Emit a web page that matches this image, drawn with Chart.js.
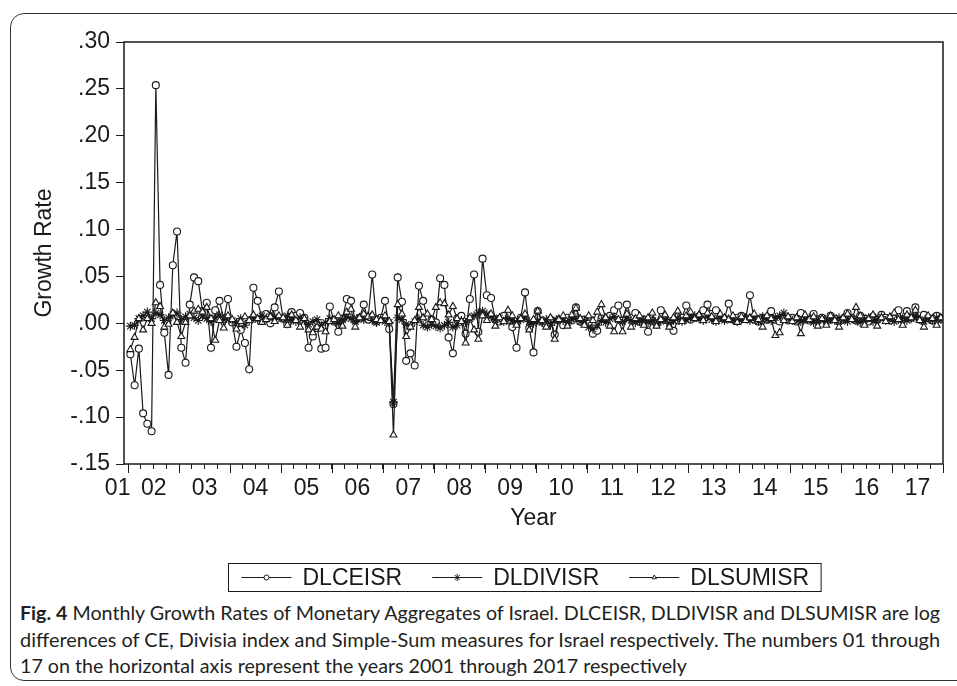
<!DOCTYPE html>
<html lang="en">
<head>
<meta charset="UTF-8">
<title>Monthly Growth Rates of Monetary Aggregates of Israel</title>
<script src="https://cdn.jsdelivr.net/npm/chart.js"></script>
<style>
  body { margin: 0; background: #fff; width: 957px; height: 686px; overflow: hidden; position: relative; }
  #frame { position: absolute; left: 10px; top: 13px; width: 1000px; height: 668px; border: 1.5px solid #333; border-radius: 14px; box-sizing: border-box; }
  #chart { position: absolute; left: 0; top: 0; }
  #caption { position: absolute; left: 20px; top: 600px; font-family: Lato, sans-serif; font-size: 19px; line-height: 26.5px; color: #231f20; }
  #caption .ln { white-space: nowrap; transform-origin: left center; width: max-content; }
</style>
</head>
<body>
<div id="frame"></div>
<canvas id="chart" width="957" height="600"></canvas>
<div id="caption">
  <div class="ln"><b>Fig. 4</b> Monthly Growth Rates of Monetary Aggregates of Israel. DLCEISR, DLDIVISR and DLSUMISR are log</div>
  <div class="ln">differences of CE, Divisia index and Simple-Sum measures for Israel respectively. The numbers 01 through</div>
  <div class="ln">17 on the horizontal axis represent the years 2001 through 2017 respectively</div>
</div>
<script>
// monthly observations 2002M01 .. 2017M12 (x = month index)
const months = [];
for (let y = 2002; y <= 2017; y++) {
  for (let m = 1; m <= 12; m++) months.push(y + 'M' + String(m).padStart(2, '0'));
}
const yearLabels = ['01','02','03','04','05','06','07','08','09','10','11','12','13','14','15','16','17'];
const yTicks = [-0.15, -0.10, -0.05, 0.00, 0.05, 0.10, 0.15, 0.20, 0.25, 0.30];

const dlceisr = [
  -0.033,-0.066,-0.027,-0.096,-0.107,-0.115, 0.254, 0.041,-0.010,-0.055, 0.062, 0.098,
  -0.026,-0.042, 0.020, 0.049, 0.045, 0.013, 0.022,-0.026, 0.014, 0.024, 0.004, 0.026,
   0.001,-0.025,-0.007,-0.021,-0.049, 0.038, 0.024, 0.005, 0.010, 0.000, 0.017, 0.034,
   0.005,-0.001, 0.012, 0.008, 0.011, 0.006,-0.026,-0.014,-0.005,-0.027,-0.026, 0.018,
   0.002,-0.009, 0.005, 0.026, 0.024, 0.003, 0.006, 0.020, 0.004, 0.052, 0.002, 0.006,
   0.024,-0.006,-0.086, 0.049, 0.023,-0.040,-0.032,-0.045, 0.040, 0.024, 0.006, 0.004,
   0.001, 0.048, 0.041,-0.015,-0.032, 0.005, 0.008,-0.011, 0.026, 0.052,-0.009, 0.069,
   0.030, 0.027, 0.004, 0.002, 0.008, 0.003,-0.004,-0.026, 0.006, 0.033,-0.005,-0.031,
   0.013, 0.002,-0.002, 0.004,-0.012, 0.004,-0.002, 0.006, 0.003, 0.017, 0.002, 0.004,
   0.000,-0.011,-0.008, 0.005, 0.004, 0.008, 0.014, 0.019, 0.003, 0.020, 0.006, 0.011,
   0.002, 0.004,-0.009, 0.003, 0.000, 0.014, 0.004, 0.002,-0.008, 0.003, 0.006, 0.019,
   0.004, 0.006, 0.007, 0.014, 0.020, 0.010, 0.014, 0.006, 0.005, 0.021, 0.004, 0.006,
   0.008, 0.005, 0.030, 0.004, 0.002, 0.006, 0.004, 0.013, 0.004, 0.002, 0.005, 0.003,
   0.006, 0.002, 0.011, 0.005, 0.003, 0.010, 0.004, 0.006, 0.003, 0.008, 0.005, 0.002,
   0.004, 0.011, 0.006, 0.003, 0.008, 0.005, 0.002, 0.007, 0.004, 0.009, 0.006, 0.003,
   0.005, 0.014, 0.004, 0.013, 0.006, 0.017, 0.004, 0.009, 0.006, 0.003, 0.008, 0.005
];
const dldivisr = [
  -0.003,-0.002, 0.005, 0.008, 0.012, 0.005, 0.011, 0.009, 0.003, 0.006, 0.009, 0.011,
   0.004, 0.007, 0.010, 0.006, 0.003, 0.008, 0.005, 0.002, 0.006, 0.009, 0.004, 0.007,
   0.003, 0.001, 0.005,-0.002, 0.003, 0.006, 0.004, 0.008, 0.005, 0.010, 0.007, 0.006,
   0.005, 0.008, 0.004, 0.002, 0.006, 0.003,-0.001, 0.002, 0.004,-0.002, 0.001, 0.005,
   0.003, 0.000, 0.004, 0.007, 0.005, 0.002, 0.006, 0.004, 0.008, 0.003, 0.001, 0.005,
   0.002, 0.001,-0.084, 0.006, 0.004,-0.001,-0.003, 0.002, 0.005,-0.002,-0.004,-0.001,
  -0.003,-0.005,-0.002, 0.001,-0.004,-0.002, 0.003, 0.001, 0.005, 0.008, 0.011, 0.013,
   0.010, 0.007, 0.004, 0.006, 0.002, 0.005, 0.003, 0.001, 0.004, 0.006, 0.002, 0.000,
   0.003, 0.001, 0.004,-0.002, 0.002, 0.005, 0.003, 0.001, 0.004, 0.006, 0.002, 0.003,
  -0.004,-0.006,-0.002, 0.003, 0.001, 0.005, 0.007, 0.004, 0.002, 0.006, 0.003, 0.001,
   0.002, 0.004, 0.001, 0.003,-0.001, 0.002, 0.004, 0.000, 0.003, 0.005, 0.002, 0.004,
   0.006, 0.008, 0.005, 0.003, 0.007, 0.004, 0.002, 0.006, 0.003, 0.005, 0.004, 0.002,
   0.004, 0.006, 0.003, 0.005, 0.002, 0.007, 0.004, 0.003, 0.006, 0.008, 0.011, 0.005,
   0.003, 0.005, 0.002, 0.004, 0.006, 0.001, 0.003, 0.005, 0.002, 0.004, 0.003, 0.006,
   0.004, 0.002, 0.005, 0.003, 0.001, 0.004, 0.006, 0.002, 0.004, 0.007, 0.003, 0.005,
   0.002, 0.004, 0.006, 0.003, 0.005, 0.008, 0.004, 0.002, 0.005, 0.003, 0.006, 0.004
];
const dlsumisr = [
  -0.028,-0.015, 0.005,-0.007, 0.005, 0.000, 0.022, 0.018,-0.004,-0.001, 0.011, 0.001,
  -0.014, 0.001, 0.008, 0.013, 0.015, 0.012, 0.017, 0.005,-0.018, 0.003,-0.005, 0.008,
   0.004,-0.006, 0.002, 0.007, 0.003, 0.009, 0.005, 0.001, 0.004, 0.007, 0.002, 0.008,
   0.006,-0.002, 0.009, 0.003,-0.004, 0.005,-0.007,-0.010,-0.004,-0.006,-0.009, 0.002,
   0.004, 0.008,-0.003, 0.012, 0.015,-0.004, 0.006, 0.010, 0.007, 0.009, 0.004, 0.003,
   0.008, 0.002,-0.119, 0.020, 0.010,-0.014,-0.004, 0.003, 0.017, 0.006, 0.010, 0.004,
   0.017, 0.022, 0.021, 0.009, 0.018, 0.005, 0.002,-0.021, 0.006,-0.007,-0.017, 0.008,
   0.003, 0.010,-0.003, 0.006, 0.002, 0.014, 0.008,-0.002, 0.005, 0.010,-0.007, 0.004,
   0.013, 0.003,-0.004, 0.006,-0.017, 0.004, 0.008,-0.003, 0.009, 0.016, 0.005,-0.002,
   0.008, 0.003, 0.012, 0.020, 0.006,-0.003,-0.009, 0.004,-0.009, 0.010,-0.004, 0.005,
   0.008,-0.002, 0.006, 0.011,-0.003, 0.004, 0.009,-0.004, 0.006, 0.013, 0.002, 0.008,
   0.012, 0.005, 0.009, 0.003, 0.011, 0.007, 0.002, 0.010, 0.006, 0.004, 0.008, 0.001,
   0.007, 0.003, 0.006, 0.010, 0.004,-0.004, 0.008, 0.005,-0.013,-0.010, 0.003, 0.007,
   0.002, 0.006,-0.011, 0.009, 0.004, 0.007,-0.003, 0.005,-0.002, 0.008, 0.003,-0.004,
   0.006, 0.010, 0.004, 0.017, 0.008,-0.002, 0.005, 0.009,-0.003, 0.006, 0.002, 0.007,
   0.011, 0.004,-0.002, 0.009, 0.006, 0.014, 0.003,-0.004, 0.008, 0.005,-0.002, 0.006
];

const ink = '#1a1a1a';
const fontFam = 'Arial, "Liberation Sans", sans-serif';
const toPoints = arr => arr.map((v, i) => ({ x: i, y: v }));

// x-axis: the axis spans 2001M12 .. 2017M12, ticks at quarter boundaries
const xMin = -1.5, xMax = months.length - 0.5;
const firstLabelAt = -3;          // the squeezed "01" label left of the first tick
const yearStarts = [];
for (let k = 0; k <= yearLabels.length - 1; k++) yearStarts.push(12 * k - 0.5);

function xTickLabel(v) {
  if (v === firstLabelAt) return yearLabels[0];
  const k = (v - 5.5) / 12;
  if (Number.isInteger(k) && k >= 0) return yearLabels[k + 1];
  return '';
}

const boxAndLegend = {
  id: 'boxAndLegend',
  afterDraw(chart) {
    const { ctx, chartArea: a } = chart;
    const x = chart.scales.x;
    ctx.save();
    ctx.strokeStyle = ink;
    ctx.lineWidth = 1.5;
    ctx.strokeRect(a.left, a.top, a.right - a.left, a.bottom - a.top);
    // long ticks at year boundaries
    ctx.lineWidth = 1;
    yearStarts.forEach(v => {
      const px = Math.round(x.getPixelForValue(v)) + 0.5;
      ctx.beginPath();
      ctx.moveTo(px, a.bottom);
      ctx.lineTo(px, a.bottom + 9);
      ctx.stroke();
    });

    // legend
    const left = 228.5, top = 563.5, h = 28, cy = top + h / 2;
    const sample = 50;
    let cx = left + 13;
    ctx.font = '23px ' + fontFam;
    ctx.textBaseline = 'middle';
    chart.data.datasets.forEach((ds, i) => {
      if (i > 0) cx += 30;
      ctx.strokeStyle = ink;
      ctx.lineWidth = 1;
      ctx.beginPath();
      ctx.moveTo(cx, cy);
      ctx.lineTo(cx + sample, cy);
      ctx.stroke();
      ctx.fillStyle = '#fff';
      Chart.helpers.drawPoint(ctx, { pointStyle: ds.pointStyle, radius: ds.pointStyle === 'star' ? 3.5 : 2.5, rotation: 0, borderWidth: 1 }, cx + sample / 2, cy);
      ctx.fillStyle = ink;
      ctx.fillText(ds.label, cx + sample + 11, cy + 1);
      cx += sample + 11 + ctx.measureText(ds.label).width;
    });
    ctx.strokeStyle = ink;
    ctx.lineWidth = 1;
    ctx.strokeRect(left, top, cx + 12 - left, h);
    ctx.restore();
  }
};

new Chart(document.getElementById('chart'), {
  type: 'line',
  data: {
    datasets: [
      { label: 'DLCEISR', data: toPoints(dlceisr), pointStyle: 'circle', pointRadius: 3.5, order: 2 },
      { label: 'DLDIVISR', data: toPoints(dldivisr), pointStyle: 'star', pointRadius: 4.5, order: 1 },
      { label: 'DLSUMISR', data: toPoints(dlsumisr), pointStyle: 'triangle', pointRadius: 4, order: 0 }
    ].map(d => Object.assign(d, {
      borderColor: ink, borderWidth: 1.2, tension: 0,
      pointBackgroundColor: '#fff', pointBorderColor: ink, pointBorderWidth: 1.1
    }))
  },
  options: {
    responsive: false,
    animation: false,
    devicePixelRatio: 1,
    layout: { padding: { left: 0, top: 42, right: 14, bottom: 66 } },
    plugins: { legend: { display: false }, tooltip: { enabled: false } },
    scales: {
      x: {
        type: 'linear',
        min: xMin,
        max: xMax,
        afterFit: s => { s.height = 70; },
        afterBuildTicks: s => {
          const t = [{ value: firstLabelAt }];
          for (let v = -0.5; v <= xMax + 0.01; v += 3) t.push({ value: v });
          s.ticks = t;
        },
        ticks: {
          autoSkip: false, maxRotation: 0, minRotation: 0, padding: 6,
          color: ink, font: { family: fontFam, size: 23 },
          callback: v => xTickLabel(v)
        },
        grid: {
          drawOnChartArea: false, drawTicks: true, tickLength: 5,
          tickColor: c => (c.tick && c.tick.value < xMin) ? 'rgba(0,0,0,0)' : ink
        },
        border: { display: false },
        title: {
          display: true, text: 'Year', color: ink, padding: { top: 0, bottom: 2 },
          font: { family: fontFam, size: 23 }
        }
      },
      y: {
        min: -0.15,
        max: 0.30,
        afterFit: s => { s.width = 124; },
        afterBuildTicks: s => { s.ticks = yTicks.map(v => ({ value: v })); },
        ticks: {
          padding: 6, color: ink,
          font: { family: fontFam, size: 23 },
          callback: v => v.toFixed(2).replace('0.', '.')
        },
        grid: { drawOnChartArea: false, drawTicks: true, tickLength: 8, tickColor: ink },
        border: { display: false },
        title: {
          display: true, text: 'Growth Rate', color: ink, padding: { top: 31, bottom: 0 },
          font: { family: fontFam, size: 23 }
        }
      }
    }
  },
  plugins: [boxAndLegend]
});

// fit caption lines to the printed column width
const lines = document.querySelectorAll('#caption .ln');
const full = 920;
const base = full / lines[0].getBoundingClientRect().width;
lines.forEach((el, i) => {
  const w = el.getBoundingClientRect().width;
  const s = i < 2 ? full / w : base;
  el.style.transform = 'scaleX(' + s + ')';
});
</script>
</body>
</html>
